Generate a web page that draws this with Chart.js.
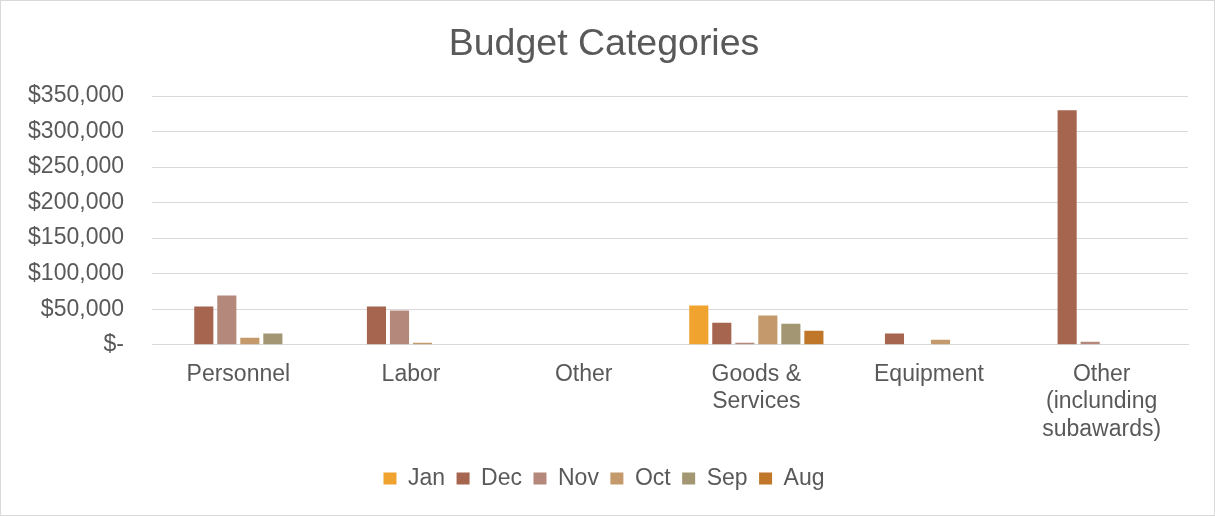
<!DOCTYPE html>
<html>
<head>
<meta charset="utf-8">
<script src="https://cdn.jsdelivr.net/npm/chart.js@4.4.1/dist/chart.umd.min.js"></script>
<style>
  html, body { margin: 0; padding: 0; background: #ffffff; }
  #wrap { width: 1215px; height: 516px; position: relative; }
</style>
</head>
<body>
<div id="wrap"><canvas id="c" width="1215" height="516"></canvas></div>
<script>
const categories = ['Personnel', 'Labor', 'Other', ['Goods &', 'Services'], 'Equipment', ['Other', '(inclunding', 'subawards)']];
const seriesNames = ['Jan', 'Dec', 'Nov', 'Oct', 'Sep', 'Aug'];
const janValues = [0, 0, 0, 55000, 0, 0];
const decValues = [53800, 53800, 0, 31000, 15600, 330000];
const novValues = [69400, 48200, 0, 2800, 0, 4200];
const octValues = [9900, 2800, 0, 41000, 7000, 0];
const sepValues = [15600, 0, 0, 29500, 0, 0];
const augValues = [0, 0, 0, 19800, 0, 0];
const seriesColors = ['#F0A32F', '#A6654E', '#B5887C', '#C49A6C', '#A29673', '#C0772A'];
const yTickMax = 350000;
const yTickStep = 50000;

const allValues = [janValues, decValues, novValues, octValues, sepValues, augValues];
const textColor = '#595959';
const gridColor = '#D9D9D9';
const fontFamily = '"Liberation Sans", Arial, sans-serif';

const borderPlugin = {
  id: 'outerBorder',
  afterDraw(chart) {
    const ctx = chart.ctx;
    ctx.save();
    ctx.strokeStyle = '#D9D9D9';
    ctx.lineWidth = 1;
    ctx.strokeRect(0.5, 0.5, chart.width - 1, chart.height - 1);
    ctx.restore();
  }
};

new Chart(document.getElementById('c'), {
  type: 'bar',
  data: {
    labels: categories,
    datasets: seriesNames.map((name, i) => ({
      label: name,
      data: allValues[i],
      backgroundColor: seriesColors[i],
      borderWidth: 0,
      categoryPercentage: 0.8,
      barPercentage: 0.83
    }))
  },
  options: {
    responsive: false,
    animation: false,
    layout: { padding: { left: 20, right: 27, top: 22, bottom: 16 } },
    plugins: {
      title: {
        display: true,
        text: 'Budget Categories',
        color: textColor,
        font: { family: fontFamily, size: 37.5, weight: 'normal' },
        padding: { top: 0, bottom: 29 }
      },
      legend: {
        position: 'bottom',
        labels: {
          color: textColor,
          font: { family: fontFamily, size: 23 },
          boxWidth: 13,
          boxHeight: 12,
          padding: 11.5
        }
      },
      tooltip: { enabled: false }
    },
    scales: {
      x: {
        grid: { display: false },
        border: { display: true, color: gridColor, width: 1 },
        ticks: {
          color: textColor,
          font: { family: fontFamily, size: 23, lineHeight: 1.2 },
          maxRotation: 0,
          autoSkip: false,
          padding: 8
        },
        afterFit: s => { s.height += 4; }
      },
      y: {
        min: 0,
        max: yTickMax,
        grid: { color: gridColor, lineWidth: 1, drawTicks: false },
        border: { display: false },
        ticks: {
          stepSize: yTickStep,
          color: textColor,
          font: { family: fontFamily, size: 23 },
          padding: 28,
          callback: v => v === 0 ? '$-' : '$' + v.toLocaleString('en-US')
        },
        afterFit: s => { s.width = 132; }
      }
    }
  },
  plugins: [borderPlugin]
});
</script>
</body>
</html>
